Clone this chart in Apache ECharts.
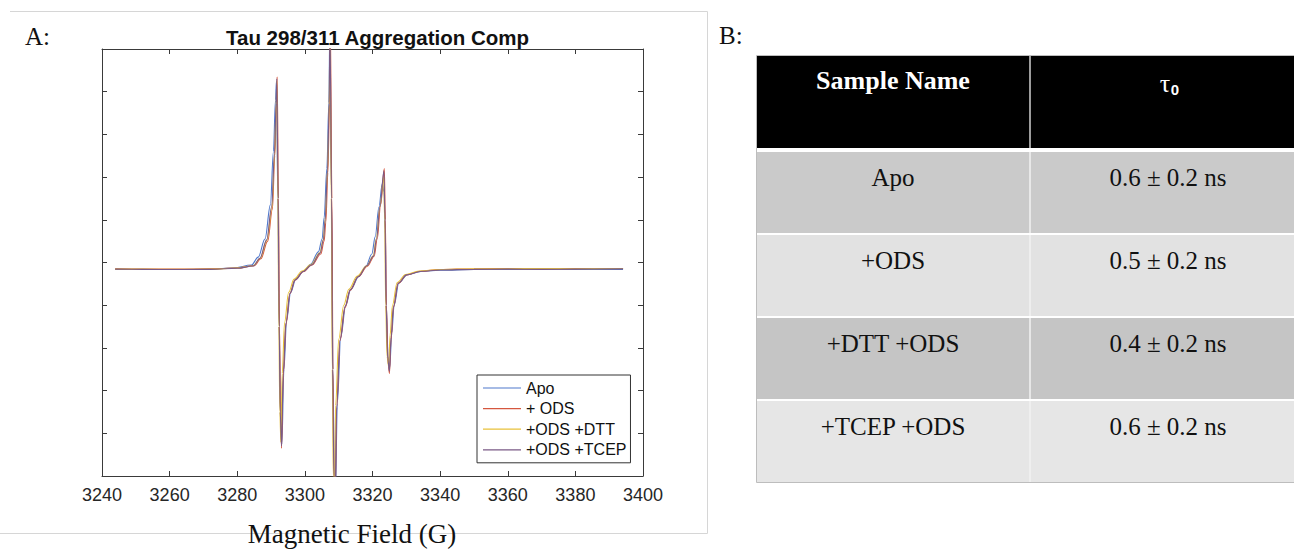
<!DOCTYPE html>
<html>
<head>
<meta charset="utf-8">
<script src="https://cdn.jsdelivr.net/npm/echarts@6.0.0/dist/echarts.min.js"></script>
<style>
html,body{margin:0;padding:0;background:#fff;}
#chart{width:1294px;height:549px;}
</style>
</head>
<body>
<div id="chart"></div>
<script>
// ---------- Data ----------
const chartTitle = 'Tau 298/311 Aggregation Comp';
const xAxisTitle = 'Magnetic Field (G)';
const xTicks = [3240, 3260, 3280, 3300, 3320, 3340, 3360, 3380, 3400];
const seriesNames = ['Apo', '+ ODS', '+ODS +DTT', '+ODS +TCEP'];

const apo = [[3243.9,-0.032],[3252,-0.033],[3262,-0.033],[3272,-0.031],[3279,-0.025],[3284.2,-0.012],[3286.2,0.025],[3288.2,0.11],[3289.8,0.27],[3290.7,0.52],[3291.3,0.76],[3291.6,0.85],[3292.0,0.3],[3292.4,-0.3],[3292.8,-0.72],[3293.2,-0.85],[3293.8,-0.50],[3294.6,-0.27],[3295.8,-0.14],[3297.3,-0.079],[3299.7,-0.040],[3301.7,-0.008],[3304.0,0.05],[3305.1,0.11],[3305.7,0.21],[3306.5,0.44],[3307.1,0.75],[3307.4,1.12],[3307.9,0.3],[3308.3,-0.5],[3308.7,-1.0],[3309.0,-1.13],[3309.6,-0.66],[3310.6,-0.35],[3312.1,-0.20],[3313.6,-0.125],[3316.0,-0.064],[3318.0,-0.02],[3319.8,0.04],[3320.8,0.12],[3321.9,0.26],[3322.9,0.37],[3323.4,0.33],[3323.8,0.15],[3324.1,-0.2],[3324.6,-0.44],[3325.1,-0.49],[3325.7,-0.33],[3326.4,-0.20],[3327.8,-0.095],[3330.3,-0.057],[3334.3,-0.042],[3340,-0.036],[3350,-0.033],[3360,-0.032],[3370,-0.033],[3380,-0.032],[3394.1,-0.032]];

const ods = [[3243.9,-0.030],[3252,-0.031],[3262,-0.031],[3272,-0.030],[3280,-0.026],[3285.0,-0.015],[3287.0,0.018],[3289.0,0.10],[3290.4,0.25],[3291.1,0.50],[3291.6,0.74],[3291.8,0.87],[3292.2,0.3],[3292.5,-0.3],[3292.8,-0.7],[3293.1,-0.87],[3293.6,-0.53],[3294.4,-0.29],[3295.6,-0.145],[3297.1,-0.082],[3299.5,-0.043],[3302.1,-0.012],[3304.7,0.04],[3305.7,0.10],[3306.2,0.19],[3306.8,0.42],[3307.3,0.74],[3307.5,1.15],[3308.0,0.3],[3308.3,-0.5],[3308.6,-1.0],[3308.9,-1.16],[3309.4,-0.68],[3310.4,-0.365],[3311.9,-0.21],[3313.4,-0.13],[3315.8,-0.067],[3318.5,-0.017],[3320.5,0.03],[3321.4,0.11],[3322.4,0.27],[3323.5,0.44],[3323.8,0.2],[3324.1,-0.2],[3324.6,-0.46],[3325.0,-0.52],[3325.5,-0.36],[3326.2,-0.21],[3327.6,-0.098],[3330.1,-0.058],[3334.1,-0.041],[3340,-0.033],[3350,-0.029],[3360,-0.028],[3370,-0.029],[3380,-0.028],[3394.1,-0.028]];

const odsDtt = [[3243.9,-0.031],[3252,-0.031],[3262,-0.032],[3272,-0.031],[3280,-0.026],[3284.7,-0.015],[3286.8,0.02],[3288.8,0.105],[3290.3,0.26],[3291.0,0.50],[3291.5,0.74],[3291.7,0.85],[3292.0,0.3],[3292.3,-0.3],[3292.6,-0.7],[3292.9,-0.84],[3293.3,-0.52],[3294.0,-0.28],[3295.2,-0.14],[3296.8,-0.078],[3299.2,-0.040],[3301.8,-0.01],[3304.4,0.045],[3305.4,0.105],[3306.0,0.2],[3306.7,0.43],[3307.2,0.74],[3307.4,1.13],[3307.8,0.3],[3308.1,-0.5],[3308.4,-1.0],[3308.7,-1.14],[3309.1,-0.67],[3310.0,-0.36],[3311.5,-0.20],[3313.0,-0.125],[3315.5,-0.064],[3318.2,-0.017],[3320.2,0.03],[3321.1,0.11],[3322.2,0.26],[3323.3,0.40],[3323.6,0.2],[3323.9,-0.2],[3324.3,-0.44],[3324.8,-0.49],[3325.2,-0.34],[3325.9,-0.20],[3327.3,-0.094],[3329.8,-0.056],[3333.8,-0.040],[3340,-0.033],[3350,-0.029],[3360,-0.029],[3370,-0.028],[3380,-0.029],[3394.1,-0.028]];

const odsTcep = [[3243.9,-0.031],[3252,-0.032],[3262,-0.033],[3272,-0.032],[3280,-0.027],[3284.8,-0.016],[3286.7,0.02],[3288.7,0.106],[3290.2,0.262],[3291.0,0.51],[3291.5,0.747],[3291.7,0.86],[3292.1,0.3],[3292.4,-0.3],[3292.7,-0.7],[3293.1,-0.86],[3293.6,-0.52],[3294.4,-0.284],[3295.6,-0.144],[3297.1,-0.081],[3299.5,-0.042],[3302.0,-0.011],[3304.5,0.044],[3305.5,0.106],[3306.0,0.2],[3306.7,0.434],[3307.2,0.747],[3307.4,1.15],[3307.9,0.3],[3308.2,-0.5],[3308.6,-1.0],[3308.9,-1.15],[3309.4,-0.675],[3310.4,-0.362],[3311.9,-0.206],[3313.4,-0.128],[3315.8,-0.066],[3318.3,-0.015],[3320.3,0.03],[3321.2,0.11],[3322.2,0.262],[3323.4,0.43],[3323.7,0.2],[3324.0,-0.2],[3324.5,-0.45],[3325.0,-0.51],[3325.5,-0.35],[3326.2,-0.206],[3327.6,-0.097],[3330.1,-0.058],[3334.1,-0.042],[3340,-0.035],[3350,-0.032],[3360,-0.031],[3370,-0.032],[3380,-0.031],[3394.1,-0.030]];

const tableHeader = ['Sample Name', 'τ', '0'];
const sampleNames = ['Apo', '+ODS', '+DTT +ODS', '+TCEP +ODS'];
const tauValues = ['0.6 ± 0.2 ns', '0.5 ± 0.2 ns', '0.4 ± 0.2 ns', '0.6 ± 0.2 ns'];
const panelLabels = ['A:', 'B:'];

// ---------- Styling / layout ----------
const seriesColors = ['#4f78cc', '#d5573f', '#e8c13a', '#7a5a86'];
const allSeries = [apo, ods, odsDtt, odsTcep];
const sans = '"Liberation Sans", Arial, sans-serif';
const serif = '"Liberation Serif", "Times New Roman", serif';
const axisColor = '#3a3a3a';

const rowFills = ['#cacaca', '#e2e2e2', '#c5c5c5', '#e6e6e6'];
const tblLeft = 757, tblRight = 1312, colDiv = 1030;
const headTop = 56, headBottom = 148, rowStart = 152, rowPitch = 83, rowHeight = 81;
const col1X = 893, col2X = 1168;

const graphic = [];
// panel A frame
graphic.push({type:'line', silent:true, shape:{x1:10, y1:11.5, x2:707.5, y2:11.5}, style:{stroke:'#d6d6d6', lineWidth:1}});
graphic.push({type:'line', silent:true, shape:{x1:707.5, y1:11.5, x2:707.5, y2:533.5}, style:{stroke:'#d6d6d6', lineWidth:1}});
graphic.push({type:'line', silent:true, shape:{x1:0, y1:533.5, x2:707.5, y2:533.5}, style:{stroke:'#d6d6d6', lineWidth:1}});
// panel labels
graphic.push({type:'text', silent:true, style:{x:25, y:36, text:panelLabels[0], font:'25px ' + serif, fill:'#111', textAlign:'left', textVerticalAlign:'middle'}});
graphic.push({type:'text', silent:true, style:{x:719, y:35, text:panelLabels[1], font:'25px ' + serif, fill:'#111', textAlign:'left', textVerticalAlign:'middle'}});
// x axis title
graphic.push({type:'text', silent:true, z:10, style:{x:352, y:534, text:xAxisTitle, font:'27px ' + serif, fill:'#111', textAlign:'center', textVerticalAlign:'middle'}});

// table
graphic.push({type:'rect', silent:true, shape:{x:tblLeft, y:headTop, width:tblRight - tblLeft, height:headBottom - headTop}, style:{fill:'#000'}});
graphic.push({type:'line', silent:true, shape:{x1:colDiv, y1:headTop, x2:colDiv, y2:headBottom}, style:{stroke:'#d0d0d0', lineWidth:1.5}});
graphic.push({type:'text', silent:true, style:{x:col1X, y:headTop + 24, text:tableHeader[0], font:'bold 26px ' + serif, fill:'#fff', textAlign:'center', textVerticalAlign:'middle'}});
graphic.push({type:'text', silent:true, style:{x:col2X - 3, y:headTop + 27, text:tableHeader[1], font:'26px ' + serif, fill:'#fff', textAlign:'center', textVerticalAlign:'middle'}});
graphic.push({type:'text', silent:true, style:{x:col2X + 7, y:headTop + 33, text:tableHeader[2], font:'bold 15px ' + sans, fill:'#fff', textAlign:'center', textVerticalAlign:'middle'}});
sampleNames.forEach(function(name, i){
  const top = rowStart + i * rowPitch;
  graphic.push({type:'rect', silent:true, shape:{x:tblLeft, y:top, width:tblRight - tblLeft, height:rowHeight}, style:{fill:rowFills[i]}});
  graphic.push({type:'line', silent:true, shape:{x1:colDiv, y1:top, x2:colDiv, y2:top + rowHeight}, style:{stroke:'#f2f2f2', lineWidth:1.5}});
  graphic.push({type:'text', silent:true, style:{x:col1X, y:top + 25, text:name, font:'25px ' + serif, fill:'#111', textAlign:'center', textVerticalAlign:'middle'}});
  graphic.push({type:'text', silent:true, style:{x:col2X, y:top + 25, text:tauValues[i], font:'25px ' + serif, fill:'#111', textAlign:'center', textVerticalAlign:'middle'}});
});
graphic.push({type:'rect', silent:true, shape:{x:tblLeft - 0.5, y:headTop - 0.5, width:tblRight - tblLeft + 2, height:rowStart + 3 * rowPitch + rowHeight - headTop + 1}, style:{fill:'none', stroke:'#bdbdbd', lineWidth:1}});

const chart = echarts.init(document.getElementById('chart'), null, {renderer:'svg', width:1294, height:549});

const axisCommon = {
  axisLine:{show:true, onZero:false, lineStyle:{color:axisColor, width:1}},
  axisTick:{show:true, inside:true, length:5, lineStyle:{color:axisColor, width:1}},
  splitLine:{show:false}
};

const option = {
  backgroundColor:'#fff',
  animation:false,
  title:{
    text:chartTitle, left:372.5, top:22, textAlign:'center',
    textStyle:{fontFamily:sans, fontWeight:'bold', fontSize:20.5, color:'#111'}
  },
  legend:{
    orient:'vertical', left:477, top:375,
    data:seriesNames,
    icon:'rect',
    padding:[5,4,5,6],
    itemWidth:38, itemHeight:1.2, itemGap:4.6,
    borderColor:'#333', borderWidth:1, backgroundColor:'#fff',
    selectedMode:false,
    textStyle:{fontFamily:sans, fontSize:16, color:'#111', lineHeight:16}
  },
  grid:{left:102, right:651, top:49, bottom:73, containLabel:false},
  xAxis:[
    Object.assign({}, axisCommon, {
      type:'value', position:'bottom', min:xTicks[0], max:xTicks[xTicks.length-1], interval:20,
      axisLabel:{show:true, margin:10, fontFamily:sans, fontSize:18, color:'#262626', showMinLabel:true, showMaxLabel:true,
        formatter:function(v){ return String(v); }}
    }),
    Object.assign({}, axisCommon, {
      type:'value', position:'top', min:xTicks[0], max:xTicks[xTicks.length-1], interval:20,
      axisLabel:{show:false}
    })
  ],
  yAxis:[
    Object.assign({}, axisCommon, {type:'value', position:'left', min:-1, max:1, interval:0.2, axisLabel:{show:false}}),
    Object.assign({}, axisCommon, {type:'value', position:'right', min:-1, max:1, interval:0.2, axisLabel:{show:false}})
  ],
  series: seriesNames.map(function(name, i){
    return {
      name:name, type:'line', data:allSeries[i],
      xAxisIndex:0, yAxisIndex:0,
      symbol:'none', showSymbol:false, smooth:0.35, smoothMonotone:'x', clip:true,
      lineStyle:{color:seriesColors[i], width:1.1},
      itemStyle:{color:seriesColors[i]},
      emphasis:{disabled:true},
      z:2 + i
    };
  }),
  graphic:graphic
};
chart.setOption(option);
</script>
</body>
</html>
